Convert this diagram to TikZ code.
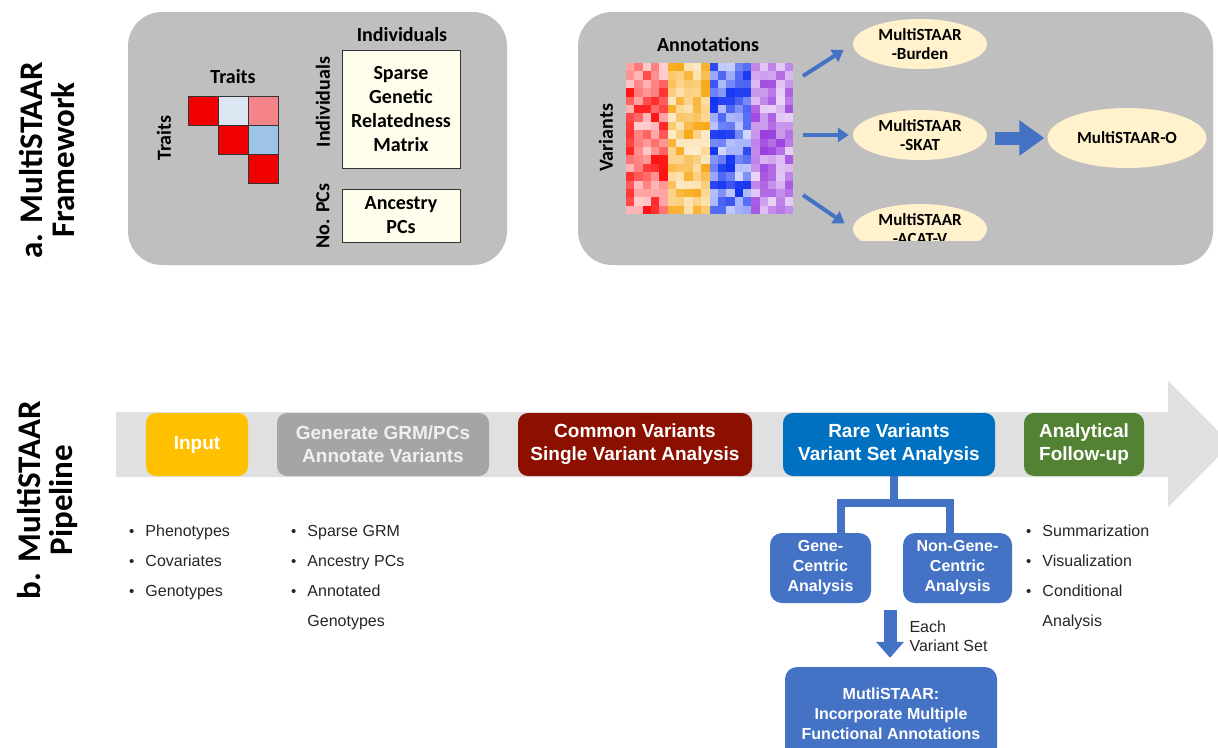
\documentclass[tikz,border=0pt]{standalone}
\usepackage{fontspec}
\setmainfont{Liberation Sans}
\newfontfamily\calib{Carlito}
\usetikzlibrary{arrows.meta, positioning, shapes.geometric}

\definecolor{panelgray}{HTML}{BFBFBF}
\definecolor{cream}{HTML}{FFF2CC}
\definecolor{paper}{HTML}{FFFDEB}
\definecolor{arrowblue}{HTML}{4472C4}
\definecolor{bandgray}{HTML}{E0E0E0}
\definecolor{inputyellow}{HTML}{FFC000}
\definecolor{gengray}{HTML}{A5A5A5}
\definecolor{commonred}{HTML}{8B1000}
\definecolor{rareblue}{HTML}{0070C0}
\definecolor{followgreen}{HTML}{548235}
\definecolor{hmred}{HTML}{FF1010}
\definecolor{hmorange}{HTML}{F8A818}
\definecolor{hmblue}{HTML}{1030F0}
\definecolor{hmpurple}{HTML}{9A3CDC}
\definecolor{cellred}{HTML}{F00000}
\definecolor{cellpink}{HTML}{F4838A}
\definecolor{cellpale}{HTML}{DCE6F2}
\definecolor{cellblue}{HTML}{9DC3E6}

\newcommand{\dotmark}{{\fontsize{15}{15}\selectfont\textbullet}}

\tikzset{
  panel/.style={fill=panelgray, rounded corners=34pt},
  tlabel/.style={font=\calib\bfseries\fontsize{20}{24}\selectfont, align=center, inner sep=0pt},
  sidelabel/.style={tlabel, rotate=90},
  sheet/.style={tlabel, draw=black!80, fill=paper, line width=0.8pt, minimum width=118pt},
  method/.style={ellipse, fill=cream, inner sep=0pt, font=\calib\bfseries\fontsize{17}{19}\selectfont, align=center, minimum width=134pt, minimum height=50pt},
  flow/.style={draw=arrowblue, line width=4pt, -{Triangle[width=14pt,length=11pt]}},
  stage/.style={rounded corners=10pt, minimum height=63pt, text=white, font=\bfseries\fontsize{19}{23}\selectfont, align=center, inner sep=0pt},
  subset/.style={rounded corners=12pt, fill=arrowblue, minimum height=70pt, text=white, font=\bfseries\fontsize{16}{20}\selectfont, align=center, inner sep=0pt},
  bullets/.style={font=\fontsize{16}{30}\selectfont, anchor=north west, inner sep=0pt, text=black!85},
  tree/.style={draw=arrowblue, line width=8pt},
}

\begin{document}
\begin{tikzpicture}[x=1pt, y=-1pt]

\clip (0,0) rectangle (1218,747);
\fill [white] (0,0) rectangle (1218,747);

% side titles
\node [sidelabel, font=\calib\bfseries\fontsize{33}{32}\selectfont] (titlea) at (47,160) {a. MultiSTAAR\\Framework};
\node [sidelabel, font=\calib\bfseries\fontsize{33}{32}\selectfont] (titleb) at (47,500) {b. MultiSTAAR\\Pipeline};

% a: traits and individuals
\fill [panel] (128,12) rectangle (507,265);
\node [tlabel  ] (traitstop)  at (233,77)  {Traits};
\node [sidelabel] (traitsside) at (164,138) {Traits};
\foreach \c/\r/\col in {0/0/cellred, 1/0/cellpale, 2/0/cellpink, 1/1/cellred, 2/1/cellblue, 2/2/cellred}
  \filldraw [fill=\col, draw=black!80, line width=0.7pt] ({188+30*\c},{96+29*\r}) rectangle ++(30,29);

\node [tlabel                     ] (indtop)  at (402,35)    {Individuals};
\node [sheet, minimum height=118pt] (grm)     at (401,109)   {Sparse\\Genetic\\Relatedness\\Matrix};
\node [sidelabel                  ] (indside) at (323,102)   {Individuals};
\node [sheet, minimum height=53pt ] (pcs)     at (401,215.5) {Ancestry\\PCs};
\node [sidelabel                  ] (pcside)  at (323,216)   {No. PCs};

% a: annotations and tests
\fill [panel] (578,12) rectangle (1213,265);
\node [tlabel   ] (annot)   at (708,45)  {Annotations};
\node [sidelabel] (varside) at (606,138) {Variants};

\pgfmathsetseed{42}
\foreach \b/\hmc in {0/hmred, 1/hmorange, 2/hmblue, 3/hmpurple}
  \foreach \i in {0,...,4}
    \foreach \j in {0,...,17} {
      \pgfmathsetmacro{\lvl}{int(20+80*rnd)}
      \fill [\hmc!\lvl!white] ({626+41.75*\b+8.35*\i},{63+8.4*\j}) rectangle ++(8.4,8.45);
    }

\node [method] (burden) at (920,44)  {MultiSTAAR\\-Burden};
\node [method] (skat)   at (920,135) {MultiSTAAR\\-SKAT};
\begin{scope}
  \clip (850,190) rectangle (990,240);
  \node [method] (acat) at (920,229) {MultiSTAAR\\-ACAT-V};
\end{scope}
\node [method, minimum width=159pt, minimum height=60pt] (omni) at (1127,138) {MultiSTAAR-O};

\coordinate (hmtop) at (803,76);
\coordinate (hmmid) at (803,135);
\coordinate (hmbot) at (803,195);
\coordinate (skatout) at (995,138);

\draw [flow, shorten >=11pt] (hmtop) -- (burden.west);
\draw [flow, shorten >=4pt ] (hmmid) -- (skat.west);
\draw [flow, shorten >=10pt] (hmbot) -- (acat.west);
\draw [draw=arrowblue, line width=13pt, -{Triangle[width=34pt,length=25pt]}, shorten >=3pt] (skatout) -- (omni.west);

% b: pipeline band
\fill [bandgray] (116,412) -- (1168,412) -- (1168,381) -- (1231,444) -- (1168,507) -- (1168,477) -- (116,477) -- cycle;

\node [stage, fill=inputyellow, minimum width=102pt                   ] (input)  at (197,444.5)  {Input};
\node [stage, fill=gengray    , minimum width=212pt, text=white!94!black] (grmpc)  at (383,444.5)  {Generate GRM/PCs\\Annotate Variants};
\node [stage, fill=commonred  , minimum width=234pt                   ] (common) at (635,444.5)  {Common Variants\\Single Variant Analysis};
\node [stage, fill=rareblue   , minimum width=212pt                   ] (rare)   at (889,444.5)  {Rare Variants\\Variant Set Analysis};
\node [stage, fill=followgreen, minimum width=120pt                   ] (follow) at (1084,444.5) {Analytical\\Follow-up};

\node [bullets] (inlist) at (129,515) {\begin{tabular}[t]{@{}c@{\hspace{11pt}}l@{}}
  \dotmark & Phenotypes \\ \dotmark & Covariates \\ \dotmark & Genotypes
\end{tabular}};
\node [bullets] (grmlist) at (291,515) {\begin{tabular}[t]{@{}c@{\hspace{11pt}}l@{}}
  \dotmark & Sparse GRM \\ \dotmark & Ancestry PCs \\ \dotmark & Annotated \\ & Genotypes
\end{tabular}};
\node [bullets] (followlist) at (1026,515) {\begin{tabular}[t]{@{}c@{\hspace{11pt}}l@{}}
  \dotmark & Summarization \\ \dotmark & Visualization \\ \dotmark & Conditional \\ & Analysis
\end{tabular}};

% b: rare variant branch
\coordinate (genetop)    at (841,533);
\coordinate (nongenetop) at (950,533);
\draw [tree] ([xshift=5pt]rare.south) -- ++(0,27) -| (genetop);
\draw [tree] ([xshift=5pt]rare.south) -- ++(0,27) -| (nongenetop);

\node [subset, minimum width=101pt] (gene)    at (820.5,568) {Gene-\\Centric\\Analysis};
\node [subset, minimum width=109pt] (nongene) at (957.5,568) {Non-Gene-\\Centric\\Analysis};
\node [subset, minimum width=212pt, minimum height=94pt] (mstaar) at (891,714) {MutliSTAAR:\\Incorporate Multiple\\Functional Annotations};

\coordinate (setarrow) at (890,610);
\draw [draw=arrowblue, line width=13pt, -{Triangle[width=27pt,length=16pt]}, shorten >=9pt] (setarrow) -- (setarrow |- mstaar.north);
\node [font=\fontsize{16}{19}\selectfont, align=left, anchor=west, text=black!85] (eachset) at (906,636) {Each\\Variant Set};

\end{tikzpicture}
\end{document}
